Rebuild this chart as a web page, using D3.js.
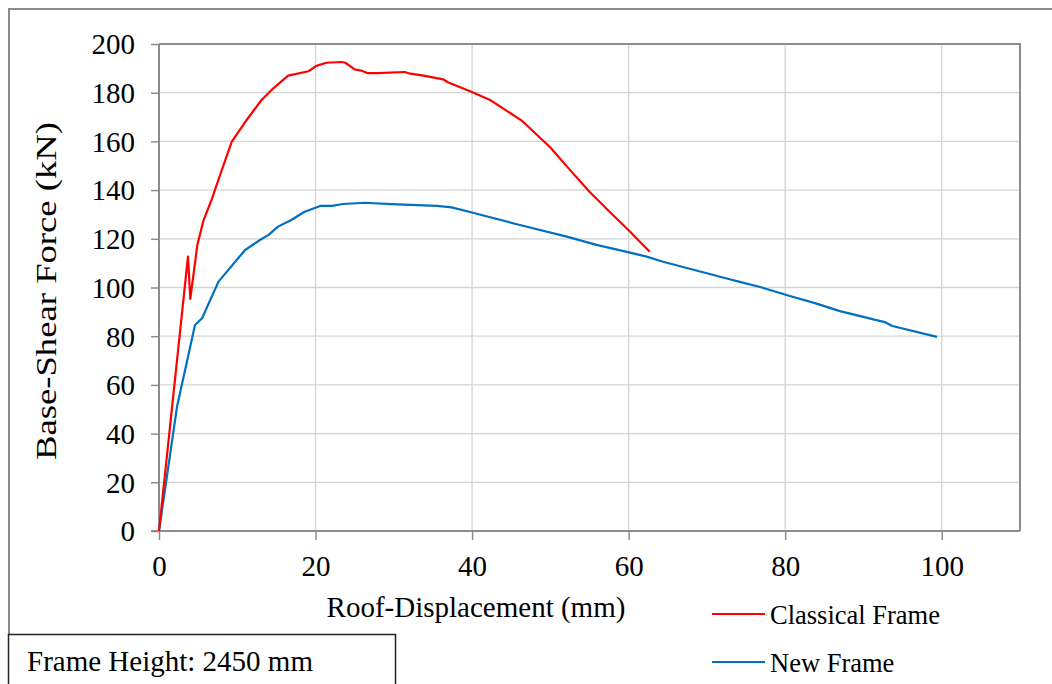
<!DOCTYPE html>
<html>
<head>
<meta charset="utf-8">
<script src="https://cdn.jsdelivr.net/npm/d3@7"></script>
<style>
  body { margin: 0; background: #fff; }
  text { font-family: "Liberation Serif", "Times New Roman", serif; fill: #000; }
</style>
</head>
<body>
<div id="chart"></div>
<script>
var svgWidth = 1052;
var svgHeight = 684;

var margin = { top: 44, right: 32, bottom: 153, left: 159 };
var width = svgWidth - margin.left - margin.right;
var height = svgHeight - margin.top - margin.bottom;

// Data
var classicalDisp = [0, 3.7, 4.0, 4.9, 5.7, 6.7, 7.8, 9.3, 11.2, 13.1, 14.6, 16.5, 19.1, 20.1, 21.4, 23.3, 23.8, 25.0, 25.9, 26.7, 27.8, 31.4, 32.1, 33.8, 36.3, 36.9, 39.9, 42.3, 43.6, 46.4, 50.0, 52.5, 55.0, 57.6, 60.2, 61.0, 62.7];
var classicalForce = [0, 112.7, 95.3, 117.5, 127.7, 135.9, 146.2, 159.9, 168.8, 177.0, 181.8, 187.0, 188.8, 191.0, 192.3, 192.6, 192.3, 189.6, 189.0, 188.0, 188.0, 188.5, 187.8, 187.0, 185.5, 184.3, 180.4, 177.0, 174.3, 168.4, 157.5, 148.3, 139.3, 131.0, 122.9, 120.2, 114.7];

var newDisp = [0, 2.3, 4.6, 5.5, 7.6, 11.0, 12.9, 14.0, 15.2, 16.9, 18.6, 20.6, 22.1, 23.5, 26.3, 29.7, 35.5, 37.4, 40.1, 45.2, 52.1, 55.9, 59.9, 62.3, 64.4, 72.9, 74.2, 76.8, 80.6, 83.8, 87.0, 92.7, 93.7, 99.4];
var newForce = [0, 51.0, 84.6, 87.4, 102.4, 115.4, 119.5, 121.6, 125.0, 127.7, 131.1, 133.5, 133.5, 134.3, 134.8, 134.2, 133.5, 132.9, 130.7, 126.4, 120.9, 117.5, 114.5, 112.7, 110.6, 103.4, 102.3, 100.2, 96.5, 93.6, 90.3, 85.8, 84.2, 79.7];

var xTicks = [0, 20, 40, 60, 80, 100];
var yTicks = [0, 20, 40, 60, 80, 100, 120, 140, 160, 180, 200];
var seriesNames = ["Classical Frame", "New Frame"];
var seriesColors = ["#ff0000", "#0070c0"];

var svg = d3.select("#chart")
  .append("svg")
  .attr("width", svgWidth)
  .attr("height", svgHeight);

// outer chart border (top + left), cut by the note box
svg.append("path")
  .attr("d", "M9,634 V9 H1052")
  .attr("fill", "none")
  .attr("stroke", "#8c8c8c")
  .attr("stroke-width", 2);

var chartGroup = svg.append("g")
  .attr("transform", `translate(${margin.left}, ${margin.top})`);

var xLinearScale = d3.scaleLinear().domain([0, 110]).range([0, width]);
var yLinearScale = d3.scaleLinear().domain([0, 200]).range([height, 0]);

// gridlines
chartGroup.append("g")
  .selectAll("line")
  .data(yTicks.filter(d => d > 0 && d < 200))
  .enter()
  .append("line")
  .attr("x1", 0).attr("x2", width)
  .attr("y1", d => yLinearScale(d)).attr("y2", d => yLinearScale(d))
  .attr("stroke", "#d4d4d4").attr("stroke-width", 1.3);

chartGroup.append("g")
  .selectAll("line")
  .data(xTicks.filter(d => d > 0))
  .enter()
  .append("line")
  .attr("x1", d => xLinearScale(d)).attr("x2", d => xLinearScale(d))
  .attr("y1", 0).attr("y2", height)
  .attr("stroke", "#d4d4d4").attr("stroke-width", 1.3);

// plot frame (top and right)
chartGroup.append("path")
  .attr("d", `M0,0 H${width} V${height}`)
  .attr("fill", "none")
  .attr("stroke", "#8c8c8c")
  .attr("stroke-width", 2);

// axes
var bottomAxis = d3.axisBottom(xLinearScale).tickValues(xTicks).tickSize(9).tickSizeOuter(0).tickPadding(15);
var leftAxis = d3.axisLeft(yLinearScale).tickValues(yTicks).tickSize(8).tickSizeOuter(0).tickPadding(16);

var xAxisG = chartGroup.append("g")
  .attr("transform", `translate(0, ${height})`)
  .call(bottomAxis);

var yAxisG = chartGroup.append("g")
  .call(leftAxis);

[xAxisG, yAxisG].forEach(function(g) {
  g.attr("font-size", null).attr("font-family", null);
  g.select(".domain").attr("stroke", "#8c8c8c").attr("stroke-width", 2);
  g.selectAll(".tick line").attr("stroke", "#8c8c8c").attr("stroke-width", 1.5);
  g.selectAll(".tick text")
    .style("font-family", "'Liberation Serif', 'Times New Roman', serif")
    .style("font-size", "29px")
    .attr("fill", "#000");
});
// bottom axis line extends a bit left
xAxisG.select(".domain").attr("d", `M-8,0H${width}`);
yAxisG.select(".domain").attr("d", `M0,0V${height}`);
yAxisG.selectAll(".tick text").attr("dy", "0.34em");

// lines
var line = d3.line()
  .x(d => xLinearScale(d[0]))
  .y(d => yLinearScale(d[1]));

var classicalData = classicalDisp.map((d, i) => [d, classicalForce[i]]);
var newData = newDisp.map((d, i) => [d, newForce[i]]);

chartGroup.append("path")
  .datum(newData)
  .attr("d", line)
  .attr("fill", "none")
  .attr("stroke", seriesColors[1])
  .attr("stroke-width", 2.2)
  .attr("stroke-linejoin", "round");

chartGroup.append("path")
  .datum(classicalData)
  .attr("d", line)
  .attr("fill", "none")
  .attr("stroke", seriesColors[0])
  .attr("stroke-width", 2.2)
  .attr("stroke-linejoin", "round");

// axis titles
svg.append("text")
  .attr("transform", "translate(56, 291) rotate(-90)")
  .attr("text-anchor", "middle")
  .style("font-size", "29px")
  .attr("textLength", 338)
  .attr("lengthAdjust", "spacingAndGlyphs")
  .text("Base-Shear Force (kN)");

svg.append("text")
  .attr("x", 476)
  .attr("y", 617)
  .attr("text-anchor", "middle")
  .style("font-size", "29px")
  .text("Roof-Displacement (mm)");

// legend
var legend = svg.append("g")
  .selectAll("g")
  .data(seriesNames)
  .enter()
  .append("g")
  .attr("transform", (d, i) => `translate(712, ${614 + i * 48})`);

legend.append("line")
  .attr("x1", 0).attr("x2", 53)
  .attr("y1", 0).attr("y2", 0)
  .attr("stroke", (d, i) => seriesColors[i])
  .attr("stroke-width", 2.2);

legend.append("text")
  .attr("x", 58)
  .attr("y", 10)
  .style("font-size", "26.5px")
  .text(d => d);

// note box
svg.append("rect")
  .attr("x", 8.5)
  .attr("y", 634.5)
  .attr("width", 387)
  .attr("height", 80)
  .attr("fill", "#fff")
  .attr("stroke", "#222")
  .attr("stroke-width", 1.5);

svg.append("text")
  .attr("x", 27)
  .attr("y", 671)
  .style("font-size", "29px")
  .text("Frame Height: 2450 mm");
</script>
</body>
</html>
